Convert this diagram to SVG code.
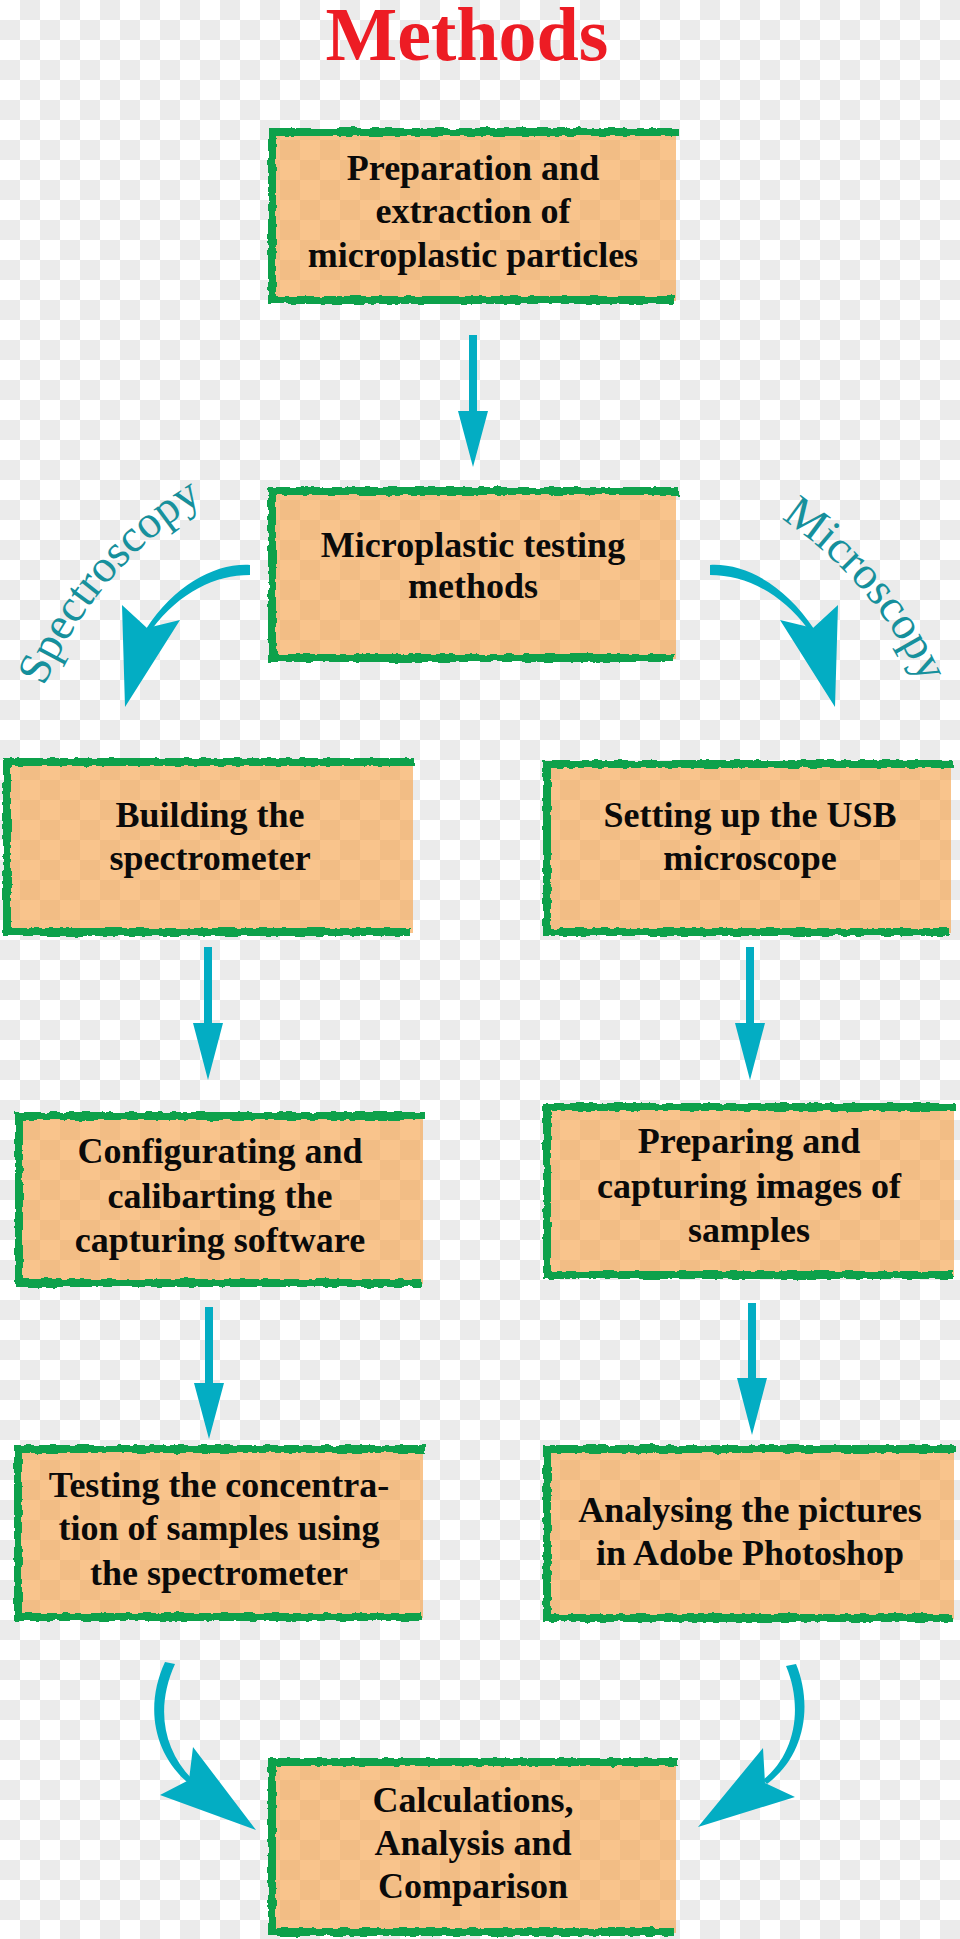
<svg xmlns="http://www.w3.org/2000/svg" width="960" height="1939" viewBox="0 0 960 1939">
<defs>
  <pattern id="checker" x="0" y="0" width="40" height="40" patternUnits="userSpaceOnUse">
    <rect width="40" height="40" fill="#ffffff"/>
    <rect x="20" y="0" width="20" height="20" fill="#ebebeb"/>
    <rect x="0" y="20" width="20" height="20" fill="#ebebeb"/>
  </pattern>
  <filter id="rough" x="-5%" y="-5%" width="110%" height="110%">
    <feTurbulence type="fractalNoise" baseFrequency="0.12" numOctaves="2" seed="4" result="n"/>
    <feDisplacementMap in="SourceGraphic" in2="n" scale="5" xChannelSelector="R" yChannelSelector="G"/>
  </filter>
  <path id="arcL" d="M42,692 A400,400 0 0 1 208,498"/>
  <path id="arcR" d="M764,508 A400,400 0 0 1 930,702"/>
</defs>
<style>
  .fill { fill: #f6a54e; fill-opacity: 0.65; }
  .border { fill: none; stroke: #0ba14b; stroke-width: 8; stroke-linejoin: miter; filter: url(#rough); }
  .edge { fill: none; stroke: #0ba14b; stroke-width: 2.5; stroke-dasharray: 12 4 3 5; opacity: 0.85; filter: url(#rough); }
  .lbl { font-family: "Liberation Serif", "Times New Roman", serif; font-weight: bold; font-size: 36px; fill: #0a0a0a; text-anchor: middle; }
  .title { font-family: "Liberation Serif", "Times New Roman", serif; font-weight: bold; font-size: 76px; fill: #ed1c24; text-anchor: middle; }
  .side { font-family: "Liberation Serif", "Times New Roman", serif; font-size: 46px; fill: #16909c; text-anchor: middle; }
  .arrow { fill: #03adc3; }
</style>

<rect width="960" height="1939" fill="url(#checker)"/>

<text class="title" x="467" y="60">Methods</text>

<g id="node-preparation">
  <rect class="fill" x="272" y="132" width="404" height="169"/>
  <path class="border" d="M678,132 H272 V300 H674"/>
  <path class="edge" d="M677,134 V300"/>
  <text class="lbl" x="473" y="180">Preparation and</text>
  <text class="lbl" x="473" y="223">extraction of</text>
  <text class="lbl" x="473" y="267">microplastic particles</text>
</g>

<g id="node-testing-methods">
  <rect class="fill" x="272" y="491" width="404" height="168"/>
  <path class="border" d="M678,491 H272 V658 H674"/>
  <path class="edge" d="M677,493 V658"/>
  <text class="lbl" x="473" y="557">Microplastic testing</text>
  <text class="lbl" x="473" y="598">methods</text>
</g>

<g id="node-building">
  <rect class="fill" x="7" y="762" width="406" height="171"/>
  <path class="border" d="M415,762 H7 V932 H411"/>
  <path class="edge" d="M414,764 V932"/>
  <text class="lbl" x="210" y="827">Building the</text>
  <text class="lbl" x="210" y="870">spectrometer</text>
</g>

<g id="node-usb">
  <rect class="fill" x="547" y="764" width="404" height="169"/>
  <path class="border" d="M953,764 H547 V932 H949"/>
  <path class="edge" d="M952,766 V932"/>
  <text class="lbl" x="750" y="827">Setting up the USB</text>
  <text class="lbl" x="750" y="870">microscope</text>
</g>

<g id="node-configurating">
  <rect class="fill" x="19" y="1116" width="404" height="168"/>
  <path class="border" d="M425,1116 H19 V1283 H421"/>
  <path class="edge" d="M424,1118 V1283"/>
  <text class="lbl" x="220" y="1163">Configurating and</text>
  <text class="lbl" x="220" y="1208">calibarting the</text>
  <text class="lbl" x="220" y="1252">capturing software</text>
</g>

<g id="node-preparing">
  <rect class="fill" x="547" y="1107" width="407" height="169"/>
  <path class="border" d="M956,1107 H547 V1275 H952"/>
  <path class="edge" d="M955,1109 V1275"/>
  <text class="lbl" x="749" y="1153">Preparing and</text>
  <text class="lbl" x="749" y="1198">capturing images of</text>
  <text class="lbl" x="749" y="1242">samples</text>
</g>

<g id="node-concentration">
  <rect class="fill" x="18" y="1449" width="405" height="169"/>
  <path class="border" d="M425,1449 H18 V1617 H421"/>
  <path class="edge" d="M424,1451 V1617"/>
  <text class="lbl" x="219" y="1497">Testing the concentra-</text>
  <text class="lbl" x="219" y="1540">tion of samples using</text>
  <text class="lbl" x="219" y="1585">the spectrometer</text>
</g>

<g id="node-photoshop">
  <rect class="fill" x="547" y="1449" width="407" height="170"/>
  <path class="border" d="M956,1449 H547 V1618 H952"/>
  <path class="edge" d="M955,1451 V1618"/>
  <text class="lbl" x="750" y="1522">Analysing the pictures</text>
  <text class="lbl" x="750" y="1565">in Adobe Photoshop</text>
</g>

<g id="node-calculations">
  <rect class="fill" x="272" y="1762" width="404" height="171"/>
  <path class="border" d="M678,1762 H272 V1932 H674"/>
  <path class="edge" d="M677,1764 V1932"/>
  <text class="lbl" x="473" y="1812">Calculations,</text>
  <text class="lbl" x="473" y="1855">Analysis and</text>
  <text class="lbl" x="473" y="1898">Comparison</text>
</g>

<g id="connectors">
  <path class="arrow" d="M469,335 H477 V411 H488 L473,467 L458,411 H469 Z"/>
  <path class="arrow" d="M204,947 H212 V1023 H223 L208,1080 L193,1023 H204 Z"/>
  <path class="arrow" d="M746,947 H754 V1023 H765 L750,1080 L735,1023 H746 Z"/>
  <path class="arrow" d="M205,1307 H213 V1383 H224 L209,1439 L194,1383 H205 Z"/>
  <path class="arrow" d="M748,1303 H756 V1378 H767 L752,1435 L737,1378 H748 Z"/>

  <path class="arrow" d="M250,565 C215,563 175,585 146,629 L152,629 C180,592 215,575 250,575 Z"/>
  <path class="arrow" d="M122,605 L147,628 L180,620 L125,707 Z"/>
  <path class="arrow" d="M710,565 C745,563 785,585 814,629 L808,629 C780,592 745,575 710,575 Z"/>
  <path class="arrow" d="M838,605 L813,628 L780,620 L835,707 Z"/>

  <path class="arrow" d="M165,1662 C145,1705 153,1752 187,1782 L192,1779 C162,1748 156,1706 175,1664 Z"/>
  <path class="arrow" d="M160,1795 L189,1780 L193,1747 L256,1830 Z"/>
  <path class="arrow" d="M796,1664 C813,1705 805,1756 767,1784 L763,1780 C796,1754 803,1706 786,1666 Z"/>
  <path class="arrow" d="M795,1797 L765,1783 L763,1748 L698,1827 Z"/>

  <text class="side"><textPath href="#arcL" startOffset="50%">Spectroscopy</textPath></text>
  <text class="side"><textPath href="#arcR" startOffset="50%">Microscopy</textPath></text>
</g>
</svg>
